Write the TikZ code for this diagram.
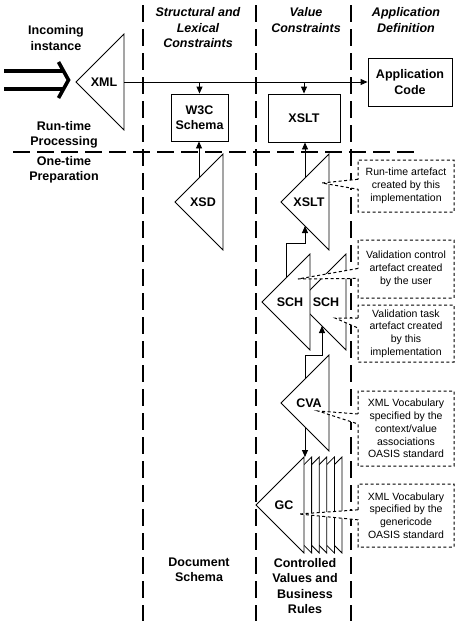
\documentclass[tikz,border=0pt]{standalone}
\usepackage{fontspec}
\setmainfont{Liberation Sans}
\usepackage{tikz}
\usetikzlibrary{arrows.meta,positioning,calc,shapes.callouts}
\tikzset{
  lbl/.style   ={font=\fontsize{12.5}{15.5}\selectfont\bfseries, align=center, inner sep=0pt},
  head/.style  ={lbl, font=\fontsize{12.5}{15.5}\selectfont\bfseries\itshape},
  box/.style   ={rectangle, draw, fill=white, line width=0.9pt, lbl},
  tri/.style   ={draw, fill=white, line width=0.8pt, line join=miter},
  lane/.style  ={line width=1.2pt, dash pattern=on 17pt off 7pt},
  flow/.style  ={-{Triangle[length=7pt,width=6pt]}, line width=0.9pt},
  feed/.style  ={double, double distance=14.6pt, line width=3.6pt},
  feedhead/.style={line width=3.6pt, line join=miter},
  note/.style  ={rectangle callout, draw, fill=white, dash pattern=on 3pt off 2.5pt,
                 line width=1pt, align=center, minimum width=96pt, inner sep=2pt,
                 callout pointer width=10pt, font=\fontsize{10.5}{12.8}\selectfont},
  pics/artefact/.style={code={
    \draw[tri] (0,-48) -- (-48,0) -- (0,48) -- cycle;
    \node[lbl] (-lab) at (-20,0) {#1};
    \coordinate (-base) at (0,0);
    \coordinate (-tip)  at (-48,0);
    \coordinate (-top)  at (0,-48);
    \coordinate (-up)   at (-24,-24);
    \coordinate (-low)  at (-24,24);
  }},
}

\begin{document}
\begin{tikzpicture}[x=1pt,y=-1pt]
  \useasboundingbox[fill=white] (0,0) rectangle (458,621);
  % lanes
  \draw[lane] (143,5) -- (143,621);
  \draw[lane] (256,5) -- (256,621);
  \draw[lane] (351,5) -- (351,621);
  \draw[lane] (13,152) -- (414,152);

  % headings
  \node[lbl]  (incoming)   at (56,38)   {Incoming\\instance};
  \node[lbl]  (runtime)    at (64,135)  {Run-time\\Processing};
  \node[lbl]  (onetime)    at (64,170)  {One-time\\Preparation};
  \node[head] (structural) at (198,28)  {Structural and\\Lexical\\Constraints};
  \node[head] (valuecol)   at (306,20)  {Value\\Constraints};
  \node[head] (appcol)     at (406,20)  {Application\\Definition};
  \node[lbl]  (docschema)  at (199,570) {Document\\Schema};
  \node[lbl]  (controlled) at (305,586) {Controlled\\Values and\\Business\\Rules};

  % run-time processing
  \pic (xml) at (124,82) {artefact=XML};
  \node[box, minimum width=57pt, minimum height=47pt] (w3c)     at (199.5,117.5) {W3C\\Schema};
  \node[box, minimum width=72pt, minimum height=48pt] (xsltbox) at (304,118)     {XSLT};
  \node[box, minimum width=84pt, minimum height=48pt] (appcode) at (410,82)      {Application\\Code};

  % one-time preparation
  \pic (xsd)     at (223,202) {artefact=XSD};
  \pic (xslt)    at (329,202) {artefact=XSLT};
  \pic (schtask) at (346,302) {artefact=SCH};
  \pic (schuser) at (310,302) {artefact=SCH};
  \pic (cva)     at (329,403) {artefact=CVA};
  \foreach \k in {5,4,...,1}
    \pic (gc\k) at (304+7.6*\k,505) {artefact={}};
  \pic (gc)      at (304,505) {artefact=GC};

  % connectors
  \coordinate (feed) at (4,80);
  \coordinate (feedend) at ($(feed -| xml-tip)+(-7.5,0)$);
  \draw[feed] (feed) -- ($(feedend)+(-5,0)$);
  \draw[feedhead] ($(feedend)+(-10,-18)$) -- (feedend) -- ($(feedend)+(-10,18)$);
  \draw[flow] (xml-base) -- (appcode.west);
  \coordinate (tow3c)  at (w3c.north |- xml-base);
  \coordinate (toxslt) at (xsltbox.north |- xml-base);
  \draw[flow] (tow3c) -- (w3c.north);
  \draw[flow] (toxslt) -- (xsltbox.north);
  \draw[flow] (xsd-up) -- (xsd-up |- w3c.south);
  \draw[flow] (xslt-up) -- (xslt-up |- xsltbox.south);
  \draw[flow] (schuser-up) -- ++(0,-35) -| (xslt-low);
  \draw[flow] (cva-up) -- ++(0,-24) -| (schtask-low);
  \draw[flow] (cva-low) -- (cva-low |- gc-top);

  % notes
  \coordinate (p1) at ($(xslt-base)+(-7,-19)$);
  \coordinate (p2) at ($(schuser-base)+(-12,-23)$);
  \coordinate (p3) at ($(schtask-base)+(-11,16)$);
  \coordinate (p4) at ($(cva-base)+(-11,8)$);
  \coordinate (p5) at ($(gc-base)+(-5,9)$);
  \node[note, minimum height=52pt, callout absolute pointer={(p1)}] (n1) at (406,186)
    {Run-time artefact\\created by this\\implementation};
  \node[note, minimum height=58pt, callout absolute pointer={(p2)}] (n2) at (406,269)
    {Validation control\\artefact created\\by the user};
  \node[note, minimum height=57pt, callout absolute pointer={(p3)}] (n3) at (406,333.5)
    {Validation task\\artefact created\\by this\\implementation};
  \node[note, minimum height=75pt, callout absolute pointer={(p4)}] (n4) at (406,428.5)
    {XML Vocabulary\\specified by the\\context/value\\associations\\OASIS standard};
  \node[note, minimum height=63pt, callout absolute pointer={(p5)}] (n5) at (406,515.5)
    {XML Vocabulary\\specified by the\\genericode\\OASIS standard};
\end{tikzpicture}
\end{document}
